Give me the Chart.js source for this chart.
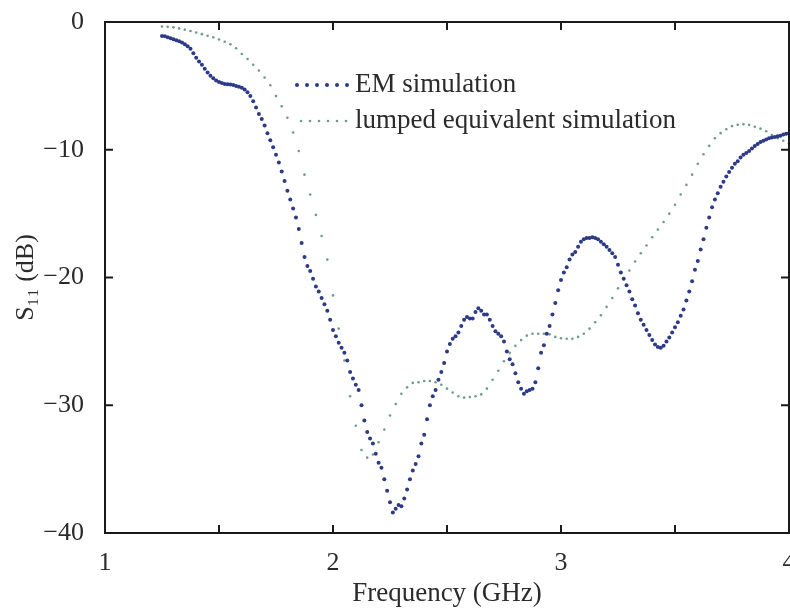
<!DOCTYPE html>
<html>
<head>
<meta charset="utf-8">
<title>S11 vs frequency</title>
<script src="https://cdn.jsdelivr.net/npm/chart.js@4/dist/chart.umd.min.js"></script>
<style>
    html, body { margin: 0; padding: 0; background: #fff; }
    #wrap { position: relative; width: 790px; height: 612px; }
</style>
</head>
<body>
<div id="wrap"><canvas id="s11Chart" width="790" height="612"></canvas></div>
<script>
// EM sweep frequencies (GHz)
const emFreqGHz = [
    1.25, 1.2625, 1.275, 1.2875, 1.3, 1.3125, 1.325, 1.3375,
    1.35, 1.3625, 1.375, 1.3875, 1.4, 1.4125, 1.425, 1.4375,
    1.45, 1.4625, 1.475, 1.4875, 1.5, 1.5125, 1.525, 1.5375,
    1.55, 1.5625, 1.575, 1.5875, 1.6, 1.6125, 1.625, 1.6375,
    1.65, 1.6625, 1.675, 1.6875, 1.7, 1.7125, 1.725, 1.7375,
    1.75, 1.7625, 1.775, 1.7875, 1.8, 1.8125, 1.825, 1.8375,
    1.85, 1.8625, 1.875, 1.8875, 1.9, 1.9125, 1.925, 1.9375,
    1.95, 1.9625, 1.975, 1.9875, 2.0, 2.0125, 2.025, 2.0375,
    2.05, 2.0625, 2.075, 2.0875, 2.1, 2.1125, 2.125, 2.1375,
    2.15, 2.1625, 2.175, 2.1875, 2.2, 2.2125, 2.225, 2.2375,
    2.25, 2.2625, 2.275, 2.2875, 2.3, 2.3125, 2.325, 2.3375,
    2.35, 2.3625, 2.375, 2.3875, 2.4, 2.4125, 2.425, 2.4375,
    2.45, 2.4625, 2.475, 2.4875, 2.5, 2.5125, 2.525, 2.5375,
    2.55, 2.5625, 2.575, 2.5875, 2.6, 2.6125, 2.625, 2.6375,
    2.65, 2.6625, 2.675, 2.6875, 2.7, 2.7125, 2.725, 2.7375,
    2.75, 2.7625, 2.775, 2.7875, 2.8, 2.8125, 2.825, 2.8375,
    2.85, 2.8625, 2.875, 2.8875, 2.9, 2.9125, 2.925, 2.9375,
    2.95, 2.9625, 2.975, 2.9875, 3.0, 3.0125, 3.025, 3.0375,
    3.05, 3.0625, 3.075, 3.0875, 3.1, 3.1125, 3.125, 3.1375,
    3.15, 3.1625, 3.175, 3.1875, 3.2, 3.2125, 3.225, 3.2375,
    3.25, 3.2625, 3.275, 3.2875, 3.3, 3.3125, 3.325, 3.3375,
    3.35, 3.3625, 3.375, 3.3875, 3.4, 3.4125, 3.425, 3.4375,
    3.45, 3.4625, 3.475, 3.4875, 3.5, 3.5125, 3.525, 3.5375,
    3.55, 3.5625, 3.575, 3.5875, 3.6, 3.6125, 3.625, 3.6375,
    3.65, 3.6625, 3.675, 3.6875, 3.7, 3.7125, 3.725, 3.7375,
    3.75, 3.7625, 3.775, 3.7875, 3.8, 3.8125, 3.825, 3.8375,
    3.85, 3.8625, 3.875, 3.8875, 3.9, 3.9125, 3.925, 3.9375,
    3.95, 3.9625, 3.975, 3.9875, 4.0
];

// S11 (dB), full-wave EM simulation
const emS11 = [
    -1.1, -1.12, -1.2, -1.27, -1.35, -1.42, -1.5, -1.6,
    -1.75, -1.9, -2.1, -2.45, -2.8, -3.1, -3.35, -3.65,
    -3.95, -4.2, -4.4, -4.58, -4.7, -4.78, -4.85, -4.88,
    -4.9, -4.93, -5.0, -5.07, -5.15, -5.28, -5.5, -5.8,
    -6.2, -6.7, -7.2, -7.6, -8.1, -8.7, -9.25, -9.8,
    -10.4, -11.0, -11.7, -12.45, -13.2, -13.9, -14.6, -15.3,
    -16.2, -17.3, -18.4, -19.1, -19.5, -20.1, -20.7, -21.1,
    -21.6, -22.1, -22.6, -23.3, -24.1, -24.6, -25.1, -25.5,
    -25.9, -26.5, -27.4, -27.9, -28.4, -28.8, -30.0, -31.2,
    -32.1, -32.6, -33.0, -33.8, -34.5, -34.9, -35.8, -36.7,
    -37.6, -38.4, -38.1, -37.8, -37.9, -37.3, -36.6, -35.8,
    -35.1, -34.6, -34.0, -33.0, -32.3, -31.1, -30.0, -29.3,
    -28.8, -28.0, -27.4, -26.7, -25.8, -25.2, -24.8, -24.6,
    -24.3, -23.8, -23.3, -23.1, -23.2, -23.2, -22.7, -22.4,
    -22.6, -22.9, -22.9, -23.3, -23.8, -24.2, -24.4, -24.6,
    -25.0, -25.8, -26.4, -26.8, -27.5, -28.2, -28.7, -29.1,
    -28.9, -28.8, -28.7, -28.2, -27.1, -25.9, -25.3, -24.4,
    -23.8, -22.9, -22.0, -21.0, -20.2, -19.6, -19.2, -18.6,
    -18.2, -18.0, -17.6, -17.2, -17.0, -16.9, -16.9, -16.85,
    -16.9, -17.0, -17.2, -17.4, -17.6, -17.85, -18.1, -18.4,
    -19.0, -19.6, -20.1, -20.6, -21.1, -21.7, -22.2, -22.8,
    -23.3, -23.7, -24.1, -24.5, -24.9, -25.25, -25.45, -25.5,
    -25.35, -25.0, -24.7, -24.3, -23.9, -23.5, -23.0, -22.5,
    -21.8, -21.1, -20.3, -19.4, -18.7, -17.8, -17.0, -16.1,
    -15.3, -14.5, -13.9, -13.4, -12.9, -12.5, -12.1, -11.75,
    -11.4, -11.1, -10.9, -10.6, -10.4, -10.25, -10.1, -9.9,
    -9.7, -9.55, -9.4, -9.3, -9.2, -9.1, -9.05, -9.0,
    -8.95, -8.9, -8.8, -8.75, -8.7
];

// lumped-equivalent sweep frequencies (GHz)
const lumpedFreqGHz = [
    1.25, 1.275, 1.3, 1.325, 1.35, 1.375, 1.4, 1.425, 1.45, 1.475,
    1.5, 1.525, 1.55, 1.575, 1.6, 1.625, 1.65, 1.675, 1.7, 1.725,
    1.75, 1.775, 1.8, 1.825, 1.85, 1.875, 1.9, 1.925, 1.95, 1.975,
    2.0, 2.025, 2.05, 2.075, 2.1, 2.125, 2.15, 2.175, 2.2, 2.225,
    2.25, 2.275, 2.3, 2.325, 2.35, 2.375, 2.4, 2.425, 2.45, 2.475,
    2.5, 2.525, 2.55, 2.575, 2.6, 2.625, 2.65, 2.675, 2.7, 2.725,
    2.75, 2.775, 2.8, 2.825, 2.85, 2.875, 2.9, 2.925, 2.95, 2.975,
    3.0, 3.025, 3.05, 3.075, 3.1, 3.125, 3.15, 3.175, 3.2, 3.225,
    3.25, 3.275, 3.3, 3.325, 3.35, 3.375, 3.4, 3.425, 3.45, 3.475,
    3.5, 3.525, 3.55, 3.575, 3.6, 3.625, 3.65, 3.675, 3.7, 3.725,
    3.75, 3.775, 3.8, 3.825, 3.85, 3.875, 3.9, 3.925, 3.95, 3.975,
    4.0
];

// S11 (dB), lumped-element equivalent circuit
const lumpedS11 = [
    -0.35, -0.38, -0.42, -0.5, -0.6, -0.7, -0.82, -0.95, -1.08, -1.2,
    -1.37, -1.55, -1.75, -2.05, -2.5, -2.9, -3.35, -3.8, -4.35, -4.95,
    -5.8, -6.6, -7.5, -8.65, -10.1, -11.95, -13.5, -15.1, -16.75, -18.6,
    -21.4, -24.0, -26.5, -29.3, -31.6, -33.5, -34.1, -33.85, -32.9, -31.9,
    -30.8, -29.9, -29.1, -28.6, -28.25, -28.2, -28.1, -28.1, -28.2, -28.4,
    -28.7, -29.0, -29.3, -29.4, -29.35, -29.3, -29.15, -28.7, -28.0, -27.3,
    -26.55, -25.9, -25.35, -24.9, -24.55, -24.4, -24.4, -24.4, -24.45, -24.65,
    -24.75, -24.8, -24.8, -24.65, -24.4, -24.0, -23.5, -22.95, -22.3, -21.6,
    -20.85, -20.1, -19.45, -18.75, -18.1, -17.5, -16.85, -16.25, -15.65, -15.0,
    -14.3, -13.5, -12.75, -11.95, -11.1, -10.35, -9.7, -9.1, -8.7, -8.4,
    -8.15, -8.05, -8.0, -8.05, -8.2, -8.35, -8.55, -8.85, -9.1, -9.3,
    -9.5
];

const seriesLabels = ['EM simulation', 'lumped equivalent simulation'];
const xTickMarks = [1.5, 2, 2.5, 3, 3.5];
const yTickMarks = [-10, -20, -30];

const serif = '"Liberation Serif", "Times New Roman", serif';
const inkColor = '#2b2b2b';

function toPoints(xs, ys) {
    return xs.map(function (f, i) { return { x: f, y: ys[i] }; });
}

// frame around the plot with inward tick marks on all four sides
const frameTicks = {
    id: 'frameTicks',
    afterDatasetsDraw(chart) {
        const { ctx, chartArea: a, scales } = chart;
        const len = 8;
        ctx.save();
        ctx.strokeStyle = '#1a1a1a';
        ctx.lineWidth = 2;
        ctx.strokeRect(a.left, a.top, a.right - a.left, a.bottom - a.top);
        ctx.beginPath();
        xTickMarks.forEach(function (v) {
            const px = scales.x.getPixelForValue(v);
            ctx.moveTo(px, a.bottom); ctx.lineTo(px, a.bottom - len);
            ctx.moveTo(px, a.top); ctx.lineTo(px, a.top + len);
        });
        yTickMarks.forEach(function (v) {
            const py = scales.y.getPixelForValue(v);
            ctx.moveTo(a.left, py); ctx.lineTo(a.left + len, py);
            ctx.moveTo(a.right, py); ctx.lineTo(a.right - len, py);
        });
        ctx.stroke();
        ctx.restore();
    }
};

// legend inside the plot: a row of dots followed by the label
const dotLegend = {
    id: 'dotLegend',
    afterDraw(chart) {
        const { ctx } = chart;
        const rows = [
            { y: 85, x0: 297, step: 10, count: 6 },
            { y: 121, x0: 301, step: 9, count: 6 }
        ];
        ctx.save();
        chart.data.datasets.forEach(function (ds, i) {
            const r = rows[i];
            ctx.fillStyle = ds.pointBackgroundColor;
            for (let k = 0; k < r.count; k++) {
                ctx.beginPath();
                ctx.arc(r.x0 + k * r.step, r.y, ds.pointRadius, 0, Math.PI * 2);
                ctx.fill();
            }
            ctx.fillStyle = inkColor;
            ctx.font = '27px ' + serif;
            ctx.textBaseline = 'middle';
            ctx.fillText(ds.label, 355, r.y);
        });
        ctx.restore();
    }
};

new Chart(document.getElementById('s11Chart'), {
    type: 'scatter',
    data: {
        datasets: [{
            label: seriesLabels[0],
            data: toPoints(emFreqGHz, emS11),
            showLine: false,
            pointRadius: 2,
            pointBorderWidth: 0,
            pointBackgroundColor: '#2c3a88',
            pointBorderColor: '#2c3a88'
        }, {
            label: seriesLabels[1],
            data: toPoints(lumpedFreqGHz, lumpedS11),
            showLine: false,
            pointRadius: 1.3,
            pointBorderWidth: 0,
            pointBackgroundColor: '#6f9c86',
            pointBorderColor: '#6f9c86'
        }]
    },
    options: {
        responsive: false,
        animation: false,
        events: [],
        layout: { autoPadding: false, padding: { left: 0, top: 22, right: 1, bottom: 0 } },
        plugins: {
            legend: { display: false },
            tooltip: { enabled: false }
        },
        scales: {
            x: {
                type: 'linear',
                min: 1,
                max: 4,
                grid: { display: false },
                border: { display: false },
                ticks: {
                    stepSize: 1,
                    padding: 7,
                    maxRotation: 0,
                    autoSkip: false,
                    color: inkColor,
                    font: { family: serif, size: 26 }
                },
                title: {
                    display: true,
                    text: 'Frequency (GHz)',
                    color: inkColor,
                    font: { family: serif, size: 27 },
                    padding: { top: 0, bottom: 2 }
                },
                afterFit: function (scale) {
                    scale.height = 79;
                    scale.paddingLeft = 0;
                    scale.paddingRight = 0;
                }
            },
            y: {
                type: 'linear',
                min: -40,
                max: 0,
                grid: { display: false },
                border: { display: false },
                ticks: {
                    stepSize: 10,
                    padding: 13,
                    color: inkColor,
                    font: { family: serif, size: 26 },
                    callback: function (value) {
                        return String(value).replace('-', '\u2212');
                    }
                },
                title: {
                    display: true,
                    text: 'S\u2081\u2081 (dB)',
                    color: inkColor,
                    font: { family: serif, size: 26 },
                    padding: { top: 11, bottom: 0 }
                },
                afterFit: function (scale) {
                    scale.width = 105;
                    scale.paddingTop = 0;
                    scale.paddingBottom = 0;
                }
            }
        }
    },
    plugins: [frameTicks, dotLegend]
});
</script>
</body>
</html>
